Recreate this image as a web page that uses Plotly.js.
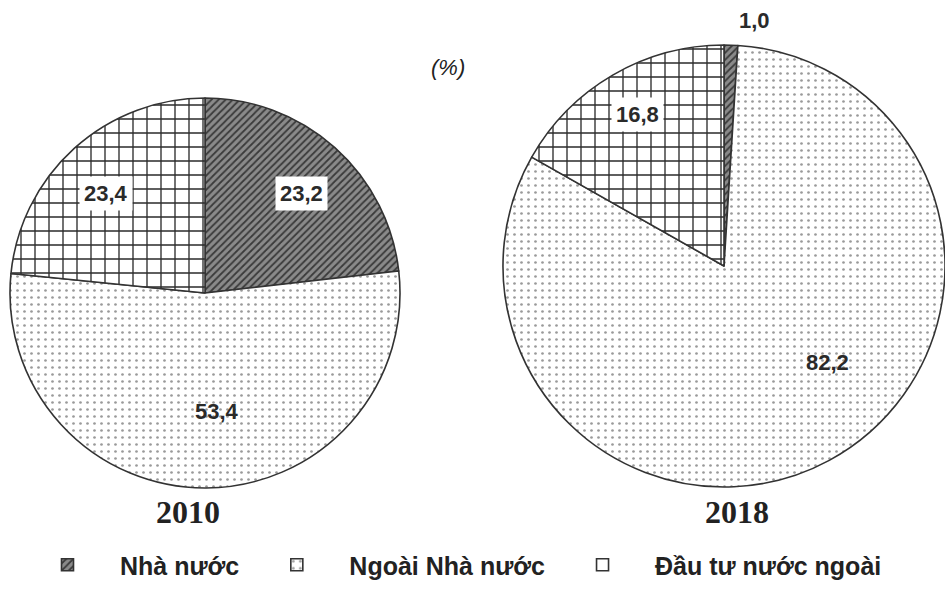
<!DOCTYPE html>
<html>
<head>
<meta charset="utf-8">
<script src="https://cdn.plot.ly/plotly-3.0.1.min.js"></script>
<style>html,body{margin:0;padding:0;background:#fff;}#chart{width:945px;height:589px;}</style>
</head>
<body>
<div id="chart"></div>
<script>
// ---- data ----
const categories = ["Nhà nước", "Ngoài Nhà nước", "Đầu tư nước ngoài"];
const years = ["2010", "2018"];
const values2010 = [23.2, 53.4, 23.4];
const values2018 = [1.0, 82.2, 16.8];
const unitLabel = "(%)";

// ---- layout helpers ----
const W = 945, H = 589;
const pies = [
  {vals: values2010, year: years[0], cx: 205, cy: 293, r: 195, yearDx: -17,
   labelFrac: [0.71, 0.61, 0.72], labelTurn: [0.04, -0.094, -0.047], boxed: [true, false, true]},
  {vals: values2018, year: years[1], cx: 724, cy: 266, r: 221, yearDx: 13,
   labelFrac: [1.12, 0.64, 0.79], labelTurn: [0.094, -0.32, 0.012], boxed: [false, false, true]}
];

const patterns = [
  {shape: "/", bgcolor: "#8a8a8a", fgcolor: "#3a3a3a", size: 5, solidity: 0.35},
  {shape: ".", bgcolor: "#ffffff", fgcolor: "#9a9a9a", size: 7, solidity: 0.12},
  {shape: "+", bgcolor: "#ffffff", fgcolor: "#2a2a2a", size: 14, solidity: 0.18}
];

const traces = [];
const annotations = [];
pies.forEach((p, i) => {
  traces.push({
    type: "pie",
    values: p.vals,
    labels: categories,
    sort: false,
    direction: "clockwise",
    rotation: 0,
    textinfo: "none",
    hoverinfo: "label+value",
    showlegend: i === 0,
    domain: {
      x: [(p.cx - p.r) / W, Math.min(1, (p.cx + p.r) / W)],
      y: [1 - (p.cy + p.r) / H, 1 - (p.cy - p.r) / H]
    },
    marker: {
      colors: ["#8a8a8a", "#ffffff", "#ffffff"],
      pattern: {
        shape: patterns.map(q => q.shape),
        bgcolor: patterns.map(q => q.bgcolor),
        fgcolor: patterns.map(q => q.fgcolor),
        size: patterns.map(q => q.size),
        solidity: patterns.map(q => q.solidity),
        fillmode: "replace"
      },
      line: {color: "#333333", width: 1.6}
    }
  });
  // value labels placed at slice mid-angles
  const total = p.vals.reduce((a, b) => a + b, 0);
  let cum = 0;
  p.vals.forEach((v, k) => {
    const mid = (cum + v / 2) / total * 2 * Math.PI + p.labelTurn[k];
    cum += v;
    const f = p.labelFrac[k];
    const px = p.cx + Math.sin(mid) * p.r * f;
    const py = p.cy - Math.cos(mid) * p.r * f;
    annotations.push({
      xref: "paper", yref: "paper",
      x: px / W, y: 1 - py / H,
      xanchor: "center", yanchor: "middle",
      text: "<b>" + v.toFixed(1).replace(".", ",") + "</b>",
      showarrow: false,
      font: {family: "Liberation Sans, Arial, sans-serif", size: 22, color: "#2a2a2a"},
      bgcolor: p.boxed[k] ? "#ffffff" : "rgba(0,0,0,0)",
      borderpad: 4
    });
  });
  // year label
  annotations.push({
    xref: "paper", yref: "paper",
    x: (p.cx + p.yearDx) / W, y: 1 - 512 / H,
    xanchor: "center", yanchor: "middle",
    text: "<b>" + p.year + "</b>",
    showarrow: false,
    font: {family: "Liberation Serif, Times New Roman, serif", size: 32, color: "#222"}
  });
});

annotations.push({
  xref: "paper", yref: "paper",
  x: 448 / W, y: 1 - 68 / H,
  xanchor: "center", yanchor: "middle",
  text: "<i>" + unitLabel + "</i>",
  showarrow: false,
  font: {family: "Liberation Sans, Arial, sans-serif", size: 22, color: "#222"}
});

const layout = {
  width: W, height: H,
  margin: {l: 0, r: 0, t: 0, b: 0},
  paper_bgcolor: "#ffffff",
  plot_bgcolor: "#ffffff",
  showlegend: true,
  legend: {
    orientation: "h",
    x: 15 / W, xanchor: "left",
    y: 1 - 542 / H, yanchor: "top",
    font: {family: "Liberation Sans, Arial, sans-serif", size: 25, color: "#222", weight: "bold"},
    itemwidth: 95,
    traceorder: "normal"
  },
  annotations: annotations
};

Plotly.newPlot("chart", traces, layout, {displayModeBar: false, staticPlot: true});
</script>
</body>
</html>
